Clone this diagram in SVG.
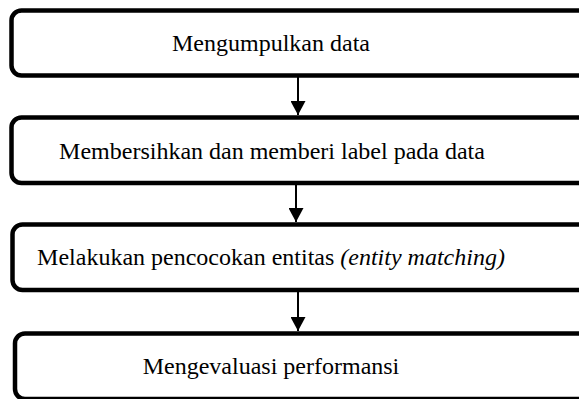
<svg xmlns="http://www.w3.org/2000/svg" width="579" height="399" viewBox="0 0 579 399">
<defs>
<style>
.box{fill:#fff;stroke:#000;stroke-width:4.5}
.lbl{font-family:"Liberation Serif","Times New Roman",serif;font-size:24px;fill:#000;text-anchor:middle}
.conn{stroke:#000;stroke-width:2;fill:none}
</style>
<marker id="ah" markerUnits="userSpaceOnUse" markerWidth="16" markerHeight="15" refX="15" refY="8" orient="auto" viewBox="0 0 15 16">
<path d="M0,0 L15,8 L0,16 Z" fill="#000"/>
</marker>
</defs>
<rect width="579" height="399" fill="#fff"/>
<g id="connectors">
<line class="conn" x1="298" y1="77" x2="298" y2="115" marker-end="url(#ah)"/>
<line class="conn" x1="296" y1="184" x2="296" y2="222" marker-end="url(#ah)"/>
<line class="conn" x1="298" y1="291" x2="298" y2="331" marker-end="url(#ah)"/>
</g>
<g id="n1">
<rect class="box" x="11.5" y="10.5" width="620" height="65" rx="10"/>
<text class="lbl" x="271" y="51">Mengumpulkan data</text>
</g>
<g id="n2">
<rect class="box" x="11.5" y="117.5" width="620" height="65.5" rx="10"/>
<text class="lbl" x="272" y="159">Membersihkan dan memberi label pada data</text>
</g>
<g id="n3">
<rect class="box" x="12.5" y="224.5" width="620" height="65.5" rx="10"/>
<text class="lbl" x="271" y="265">Melakukan pencocokan entitas <tspan font-style="italic">(entity matching)</tspan></text>
</g>
<g id="n4">
<rect class="box" x="15" y="333.5" width="620" height="65.5" rx="10"/>
<text class="lbl" x="271" y="374">Mengevaluasi performansi</text>
</g>
</svg>
